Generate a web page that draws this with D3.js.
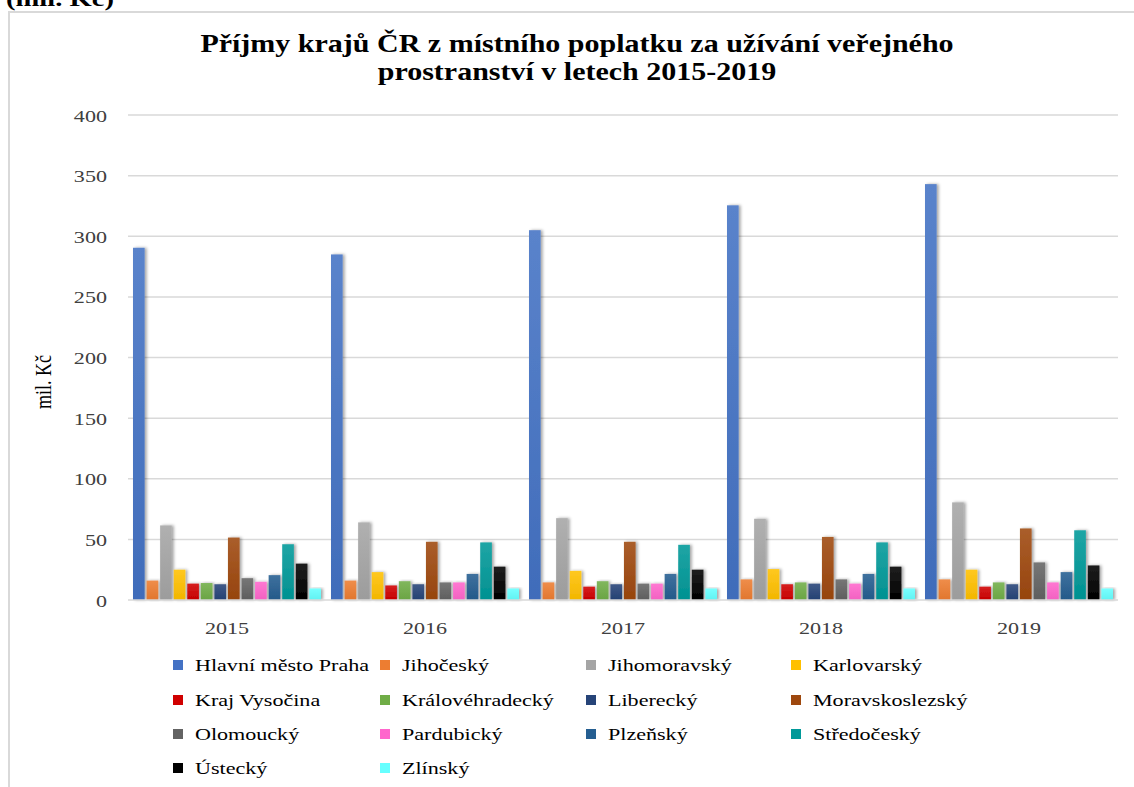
<!DOCTYPE html>
<html>
<head>
<meta charset="utf-8">
<script src="https://cdn.jsdelivr.net/npm/d3@7"></script>
<style>
  html, body { margin: 0; padding: 0; background: #fff; }
  svg { display: block; }
  svg text { font-family: "Liberation Serif", "Times New Roman", serif; }
</style>
</head>
<body>
<svg id="chart" width="1134" height="787" font-family="Liberation Serif, serif"></svg>
<script>
// ---- data ----
const years = ["2015", "2016", "2017", "2018", "2019"];
const regions = ["Hlavní město Praha", "Jihočeský", "Jihomoravský", "Karlovarský",
  "Kraj Vysočina", "Královéhradecký", "Liberecký", "Moravskoslezský",
  "Olomoucký", "Pardubický", "Plzeňský", "Středočeský", "Ústecký", "Zlínský"];
const colors = ["#4472C4", "#ED7D31", "#A5A5A5", "#FFC000", "#D00000", "#70AD47",
  "#264478", "#9E480E", "#636363", "#FF66CC", "#255E91", "#009999", "#000000", "#66FFFF"];
const praha = [290.5, 285, 305, 325.5, 343];
const jihocesky = [16, 16, 14.5, 17, 17];
const jihomoravsky = [61.5, 64, 67.5, 67, 80.5];
const karlovarsky = [25, 23, 24, 25.5, 25];
const vysocina = [13.5, 12, 11, 13, 11];
const kralovehradecky = [14, 15.5, 15.5, 14.5, 14.5];
const liberecky = [13, 13, 13, 13.5, 13];
const moravskoslezsky = [51.5, 48, 48, 52, 59];
const olomoucky = [18, 14.5, 13.5, 17, 31];
const pardubicky = [15, 14.5, 13.5, 13.5, 14.5];
const plzensky = [20.5, 21.5, 21.5, 21.5, 23];
const stredocesky = [46, 47.5, 45.5, 47.5, 57.5];
const ustecky = [30, 27.5, 25, 27.5, 28.5];
const zlinsky = [9.5, 9.5, 9.5, 9.5, 9.5];
const seriesValues = [praha, jihocesky, jihomoravsky, karlovarsky, vysocina, kralovehradecky,
  liberecky, moravskoslezsky, olomoucky, pardubicky, plzensky, stredocesky, ustecky, zlinsky];
const yTicks = [0, 50, 100, 150, 200, 250, 300, 350, 400];
const titleLines = ["Příjmy krajů ČR z místního poplatku za užívání veřejného",
  "prostranství v letech 2015-2019"];
const yTitle = "mil. Kč";
const topNote = "(mil. Kč)";

// ---- layout ----
const FONT = "Liberation Serif, Times New Roman, serif";
const svg = d3.select("#chart");
const plot = { left: 128, right: 1118, top: 115, bottom: 600 };
const SX = 1.3; // horizontal stretch of text in the reference

const defs = svg.append("defs");
const shadow = defs.append("filter").attr("id", "shadow")
  .attr("x", "-50%").attr("y", "-10%").attr("width", "200%").attr("height", "120%");
shadow.append("feDropShadow").attr("dx", 2).attr("dy", 0)
  .attr("stdDeviation", 1.4).attr("flood-color", "#000").attr("flood-opacity", 0.35);

colors.forEach((c, i) => {
  const g = defs.append("linearGradient").attr("id", "grad" + i)
    .attr("x1", 0).attr("y1", 0).attr("x2", 0).attr("y2", 1);
  g.append("stop").attr("offset", "0%").attr("stop-color", d3.interpolateRgb(c, "#fff")(0.12));
  g.append("stop").attr("offset", "100%").attr("stop-color", d3.color(c).darker(0.15));
});

// frame
svg.append("rect").attr("x", 9).attr("y", 12).attr("width", 1140).attr("height", 800)
  .attr("fill", "none").attr("stroke", "#d9d9d9").attr("stroke-width", 2);

// clipped top note (cut off at the top edge, as in the reference)
svg.append("text").attr("transform", `translate(6,6) scale(${SX},1)`)
  .attr("font-family", FONT)
  .attr("font-size", 22).attr("font-weight", "bold").attr("fill", "#000").text(topNote);

// scales
const x0 = d3.scaleBand().domain(years).range([plot.left, plot.right]).paddingInner(0).paddingOuter(0);
const x1 = d3.scaleBand().domain(regions).range([5, x0.bandwidth() - 5]).paddingInner(0.14).paddingOuter(0);
const y = d3.scaleLinear().domain([0, 400]).range([plot.bottom, plot.top]);

// gridlines
svg.append("g").selectAll("line").data(yTicks.filter(t => t > 0)).join("line")
  .attr("x1", plot.left).attr("x2", plot.right)
  .attr("y1", d => y(d)).attr("y2", d => y(d))
  .attr("stroke", "#d9d9d9").attr("stroke-width", 1.5);

// y axis labels
const yAxis = svg.append("g").attr("transform", `translate(${plot.left},0)`)
  .call(d3.axisLeft(y).tickValues(yTicks).tickSize(0).tickPadding(0));
yAxis.attr("font-family", FONT);
yAxis.select(".domain").remove();
yAxis.selectAll(".tick text")
  .attr("x", null).attr("dy", null)
  .attr("font-family", FONT)
  .attr("font-size", 17).attr("fill", "#404040")
  .attr("text-anchor", "end")
  .attr("transform", `translate(-21,6) scale(${SX},1)`);

// bars
const groups = svg.append("g").selectAll("g").data(years).join("g")
  .attr("transform", d => `translate(${x0(d)},0)`);
groups.selectAll("rect")
  .data((yr, yi) => regions.map((r, ri) => ({ r, ri, v: seriesValues[ri][yi] })))
  .join("rect")
  .attr("x", d => x1(d.r))
  .attr("width", x1.bandwidth())
  .attr("y", d => y(d.v))
  .attr("height", d => y(0) - y(d.v))
  .attr("fill", d => `url(#grad${d.ri})`)
  .attr("filter", "url(#shadow)");

// baseline
svg.append("line").attr("x1", plot.left).attr("x2", plot.right)
  .attr("y1", y(0)).attr("y2", y(0)).attr("stroke", "#d9d9d9").attr("stroke-width", 1.5);

// x axis labels
const xAxis = svg.append("g").attr("transform", `translate(0,${plot.bottom})`)
  .call(d3.axisBottom(x0).tickSize(0).tickPadding(0));
xAxis.attr("font-family", FONT);
xAxis.select(".domain").remove();
xAxis.selectAll(".tick text")
  .attr("y", null).attr("dy", null)
  .attr("font-family", FONT)
  .attr("font-size", 17).attr("fill", "#404040")
  .attr("transform", `translate(0,34) scale(${SX},1)`);

// y title
svg.append("text")
  .attr("transform", `translate(51,382) scale(${SX},1) rotate(-90)`)
  .attr("font-family", FONT)
  .attr("text-anchor", "middle").attr("font-size", 18).attr("fill", "#000")
  .text(yTitle);

// title
svg.append("g").selectAll("text").data(titleLines).join("text")
  .attr("transform", (d, i) => `translate(577,${52 + i * 28}) scale(1.2,1)`)
  .attr("font-family", FONT)
  .attr("text-anchor", "middle").attr("font-size", 25).attr("font-weight", "bold")
  .attr("fill", "#000").text(d => d);

// legend
const colX = [173, 380, 586, 791];
const rowY = [665, 700, 734, 768];
const leg = svg.append("g").selectAll("g").data(regions).join("g")
  .attr("transform", (d, i) => `translate(${colX[i % 4]},${rowY[Math.floor(i / 4)]})`);
leg.append("rect").attr("x", 0).attr("y", -5).attr("width", 10).attr("height", 10)
  .attr("fill", (d, i) => colors[i]);
leg.append("text").attr("transform", `translate(22,6) scale(1.38,1)`)
  .attr("font-family", FONT)
  .attr("font-size", 16).attr("fill", "#000").text(d => d);
</script>
</body>
</html>
